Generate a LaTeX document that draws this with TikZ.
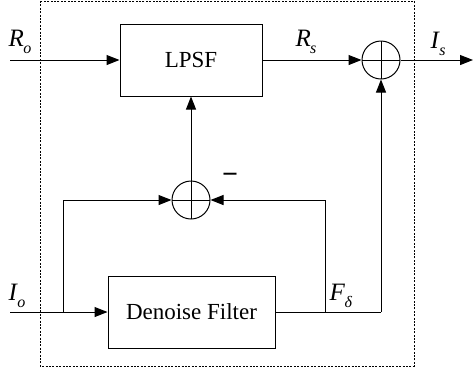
\documentclass[tikz,border=0pt]{standalone}
\usepackage{fontspec}
\setmainfont{Liberation Serif}
\usetikzlibrary{arrows.meta,positioning}
\tikzset{
  block/.style={draw, line width=0.5pt, minimum width=#1, minimum height=36pt,
                inner sep=0pt, font=\fontsize{11.5}{13}\selectfont},
  block/.default=71pt,
  summer/.style={draw, circle, line width=0.5pt, minimum size=19pt, inner sep=0pt,
                 path picture={\draw[line width=0.5pt]
                   (path picture bounding box.north) -- (path picture bounding box.south)
                   (path picture bounding box.west) -- (path picture bounding box.east);}},
  sig/.style={font=\fontsize{12.5}{14}\selectfont, inner sep=0pt},
  wire/.style={line width=0.5pt},
  flow/.style={wire, -{Triangle[length=6.5pt,width=5pt]}},
}
\newcommand{\sgn}[2]{\textit{#1}\kern-0.3pt\raisebox{-3.2pt}{\fontsize{8}{9}\selectfont\textit{#2}}}

\begin{document}
\begin{tikzpicture}[x=0.5pt, y=-0.5pt]
  \useasboundingbox (0,0) rectangle (474,372);
  % frame
  \draw[line width=0.5pt, dash pattern=on 1pt off 0.7pt] (40,1) rectangle (414,366);
  % blocks
  \node[block] (lpsf) at (191,60) {LPSF};
  \node[block=83.5pt] (denoise) at (191.5,312) {Denoise Filter};
  \node[summer] (sumtop) at (381,60) {};
  \node[summer] (sumbot) at (191,200) {};
  % free ends and branch points
  \coordinate (ro) at (10,60);
  \coordinate (io) at (10,312);
  \coordinate (out) at (473,60);
  \coordinate (brl) at (63,312);
  \coordinate (brr) at (325,312);
  \coordinate (fc) at (381,312);
  % connectors
  \draw[flow] (ro) -- (lpsf.west);
  \draw[flow] (lpsf.east) -- (sumtop.west);
  \draw[flow] (sumtop.east) -- (out);
  \draw[flow] (io) -- (denoise.west);
  \draw[wire] (denoise.east) -- (fc);
  \draw[flow] (fc) -- (sumtop.south);
  \draw[flow] (brl) |- (sumbot.west);
  \draw[flow] (brr) |- (sumbot.east);
  \draw[flow] (sumbot.north) -- (lpsf.south);
  % labels
  \node[sig] (lro) at (20,42) {\sgn{R}{o}};
  \node[sig] (lrs) at (306,42) {\sgn{R}{s}};
  \node[sig] (lis) at (438,44) {\sgn{I}{s}};
  \node[sig] (lio) at (17,296) {\sgn{I}{o}};
  \node[sig] (lfd) at (341,296) {\sgn{F}{δ}};
  \node[sig, font=\fontsize{14}{14}\selectfont\bfseries] (minus) at (230,178) {−};
\end{tikzpicture}
\end{document}
